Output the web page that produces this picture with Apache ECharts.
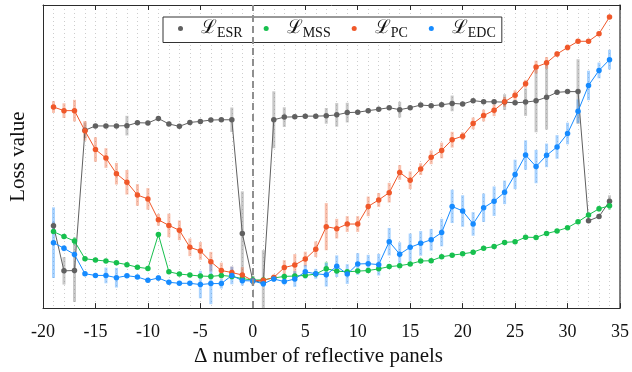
<!DOCTYPE html>
<html>
<head>
<meta charset="utf-8">
<script src="https://cdn.jsdelivr.net/npm/echarts@6/dist/echarts.min.js"></script>
<style>
  html, body { margin: 0; padding: 0; background: #fff; }
  #chart { width: 632px; height: 372px; }
</style>
</head>
<body>
<div id="chart"></div>
<script>
// x positions: delta number of reflective panels, -19 .. 34
const deltas = []
for (let d = -19; d <= 34; d++) deltas.push(d)

const xTicks = [-20, -15, -10, -5, 0, 5, 10, 15, 20, 25, 30, 35]

// loss values (arbitrary units)
const esr = [84, 38, 38.3, 181.3, 185.7, 185.7, 185.7, 186, 189, 188.7,
  193.3, 187.7, 185.3, 189.3, 190.3, 191.7, 192, 192, 76, 28,
  26, 192, 194.7, 195, 195.7, 195.7, 196, 197, 199.3, 199.7,
  201.3, 202.7, 204.3, 202.3, 204.3, 207, 206.3, 207.3, 208.7, 208,
  211.5, 210.3, 210.3, 210, 209.3, 210, 211.3, 215, 220, 220.7,
  220.7, 89, 93.3, 109]
const esrErr = [4, 14, 32, 8, 2, 2, 2, 10, 2, 2,
  2, 2, 2, 2, 2, 2, 2, 12.5, 43, 5,
  33, 29, 10, 2, 2, 2, 8, 12, 10, 2,
  2, 2, 2, 8, 2, 2, 2, 2, 8, 2,
  2, 2, 2, 8, 2, 14, 32, 33, 2, 2,
  33, 2, 2, 6]

const mss = [78, 73, 68.3, 50.3, 49, 48, 46.3, 44.3, 41.7, 40.3,
  75, 37, 34.7, 33.7, 32.7, 32.3, 33.3, 32.3, 30, 28.7,
  28.7, 30.7, 32.3, 32.7, 33.3, 34.7, 40.2, 37.7, 37, 37.7,
  38.3, 40, 42.3, 43.3, 45, 48, 48.3, 52.3, 54, 55.3,
  57, 61, 62.7, 67, 67.7, 72.3, 72, 76, 78.7, 82,
  88, 95, 101.3, 104.3]
const mssErr = [1.5, 1.5, 4, 1.5, 1.5, 1.5, 1.5, 1.5, 1.5, 1.5,
  1.5, 1.5, 1.5, 1.5, 1.5, 1.5, 1.5, 3, 1.5, 4,
  1.5, 1.5, 1.5, 1.5, 1.5, 1.5, 7, 1.5, 1.5, 1.5,
  1.5, 1.5, 1.5, 1.5, 1.5, 1.5, 1.5, 1.5, 1.5, 1.5,
  1.5, 1.5, 1.5, 1.5, 1.5, 1.5, 1.5, 1.5, 1.5, 1.5,
  1.5, 1.5, 3, 4]

const pc = [205, 201.3, 201.3, 180.7, 161.7, 153, 137, 128.3, 115.3, 111.3,
  90, 84.3, 79.3, 62, 58.3, 47.3, 38.3, 36.3, 33.7, 28,
  28.3, 31.3, 41.3, 44, 50, 60, 83, 81, 85.7, 85.7,
  103.7, 110.3, 117.7, 138.3, 130.3, 141.7, 153.7, 160.7, 171.7, 175.3,
  188.3, 196.3, 201.7, 210.3, 217, 228.7, 245.7, 250, 259, 265.7,
  272, 272, 279.7, 296.7]
const pcErr = [6, 7.5, 11, 10, 12.5, 10, 11, 12.5, 11, 11,
  6, 12, 10, 9, 9, 10, 8, 6, 8, 3,
  3, 3, 7.5, 11, 7.5, 8, 24, 10, 8, 8,
  10, 7, 10, 7.5, 9, 6, 7, 8, 8, 4,
  6, 6, 6, 5, 5, 4, 6.5, 6, 3, 3,
  2, 2, 2, 1]

const edc = [66.7, 61, 54.7, 35, 33.3, 33.3, 31, 33, 31.7, 28.3,
  30.7, 26.3, 25.3, 25.3, 24, 25, 25, 33.3, 28, 27.7,
  24.7, 29.7, 27, 29.7, 37, 35, 34, 42.7, 34.7, 45,
  45.3, 44.3, 67.7, 55, 62, 66, 69.7, 77, 103.7, 99,
  85.8, 102.3, 109, 118, 136.3, 156, 144.3, 155.7, 164.3, 178,
  200.7, 227, 242.3, 253.3]
const edcErr = [36, 3, 3, 2, 2, 8, 10, 2, 2, 2,
  3, 2, 2, 2, 14, 21, 5, 9, 5, 3,
  3, 3, 3, 8, 7, 5, 12, 11, 10, 11,
  9, 11, 14, 12, 14, 12.5, 11, 14, 17, 16,
  12, 14.5, 15, 12, 15, 15, 17, 12, 12, 11,
  12, 15, 8, 10]

const losses = [
  { name: 'ESR', values: esr, err: esrErr, color: '#606060', bar: 'rgba(110,110,110,0.38)' },
  { name: 'MSS', values: mss, err: mssErr, color: '#17c04e', bar: 'rgba(30,200,80,0.38)' },
  { name: 'PC', values: pc, err: pcErr, color: '#f0582a', bar: 'rgba(240,90,40,0.38)' },
  { name: 'EDC', values: edc, err: edcErr, color: '#168bff', bar: 'rgba(30,140,255,0.38)' }
]

const serif = 'Liberation Serif'
const axisColor = '#2b2b2b'

const series = []
losses.forEach(function (s) {
  series.push({
    name: s.name + '-err',
    type: 'custom',
    z: 1,
    clip: true,
    silent: true,
    encode: { x: 0, y: 1 },
    data: deltas.map(function (d, i) { return [d, s.values[i], s.err[i]] }),
    renderItem: function (params, api) {
      const x = api.value(0)
      const v = api.value(1)
      const e = api.value(2)
      const p1 = api.coord([x, v - e])
      const p2 = api.coord([x, v + e])
      return {
        type: 'line',
        shape: { x1: p1[0], y1: p1[1], x2: p2[0], y2: p2[1] },
        style: { stroke: s.bar, lineWidth: 3 }
      }
    }
  })
})
losses.forEach(function (s) {
  series.push({
    name: s.name,
    type: 'line',
    z: 3,
    data: deltas.map(function (d, i) { return [d, s.values[i]] }),
    symbol: 'circle',
    symbolSize: 5.5,
    showSymbol: true,
    itemStyle: { color: s.color },
    lineStyle: { color: s.color, width: 1 }
  })
})
// dashed marker at zero
series[4].markLine = {
  silent: true,
  symbol: ['none', 'none'],
  label: { show: false },
  lineStyle: { type: [7, 4], color: '#8f8f8f', width: 2 },
  data: [{ xAxis: 0 }]
}

const chart = echarts.init(document.getElementById('chart'))
chart.setOption({
  animation: false,
  backgroundColor: '#fff',
  grid: { left: 37, right: 8, top: 5, bottom: 58 },
  legend: {
    data: losses.map(function (s) { return s.name }),
    left: 163,
    top: 17,
    icon: 'circle',
    itemWidth: 5,
    itemHeight: 5,
    itemGap: 21,
    padding: [2, 6, 2, 15],
    backgroundColor: '#fff',
    borderColor: '#333',
    borderWidth: 1,
    borderRadius: 0,
    formatter: function (name) { return '{l|ℒ}{s|' + name + '}' },
    textStyle: {
      rich: {
        l: { fontFamily: 'DejaVu Serif', fontSize: 19, color: '#111', padding: [0, 0, 0, 13] },
        s: { fontFamily: serif, fontSize: 14, color: '#111', padding: [10, 0, 0, 0] }
      }
    }
  },
  xAxis: [{
    type: 'value',
    min: -20,
    max: 35,
    interval: 5,
    name: 'Δ number of reflective panels',
    nameLocation: 'middle',
    nameGap: 37,
    nameTextStyle: { fontFamily: serif, fontSize: 21, color: '#111', padding: [0, 26, 0, 0] },
    axisLine: { onZero: false, lineStyle: { color: axisColor, width: 1 } },
    axisTick: { inside: true, length: 5, lineStyle: { color: axisColor } },
    axisLabel: {
      fontFamily: serif, fontSize: 18, color: '#111', margin: 15,
      formatter: function (v) { return xTicks.indexOf(v) >= 0 ? String(v) : '' }
    },
    splitLine: { show: true, lineStyle: { type: [1, 3], color: '#cdcdcd' } },
    minorTick: { show: false, splitNumber: 5 },
    minorSplitLine: { show: true, lineStyle: { type: [1, 3], color: '#cdcdcd' } }
  }, {
    type: 'value',
    position: 'top',
    min: -20,
    max: 35,
    interval: 5,
    axisLine: { onZero: false, lineStyle: { color: axisColor, width: 1 } },
    axisTick: { inside: true, length: 5, lineStyle: { color: axisColor } },
    axisLabel: { show: false },
    splitLine: { show: false }
  }],
  yAxis: [{
    type: 'value',
    min: 0,
    max: 309,
    name: 'Loss value',
    nameLocation: 'middle',
    nameGap: 14,
    nameTextStyle: { fontFamily: serif, fontSize: 21, color: '#111' },
    axisLine: { show: true, onZero: false, lineStyle: { color: axisColor, width: 1 } },
    axisTick: { show: false },
    axisLabel: { show: false },
    splitLine: { show: false }
  }, {
    type: 'value',
    position: 'right',
    min: 0,
    max: 309,
    axisLine: { show: true, onZero: false, lineStyle: { color: '#555', width: 1.5 } },
    axisTick: { show: false },
    axisLabel: { show: false },
    splitLine: { show: false }
  }],
  series: series
})
</script>
</body>
</html>
